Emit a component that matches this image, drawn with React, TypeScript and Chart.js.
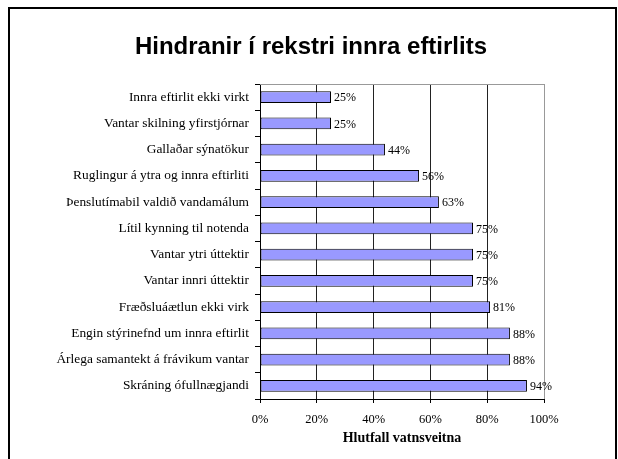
import React, { useEffect, useRef } from "react";
import { Chart, registerables } from "chart.js";

Chart.register(...registerables);

const chartTitle = "Hindranir í rekstri innra eftirlits";
const xAxisTitle = "Hlutfall vatnsveitna";

const categories = [
  "Innra eftirlit ekki virkt",
  "Vantar skilning yfirstjórnar",
  "Gallaðar sýnatökur",
  "Ruglingur á ytra og innra eftirliti",
  "Þenslutímabil valdið vandamálum",
  "Lítil kynning til notenda",
  "Vantar ytri úttektir",
  "Vantar innri úttektir",
  "Fræðsluáætlun ekki virk",
  "Engin stýrinefnd um innra eftirlit",
  "Árlega samantekt á frávikum vantar",
  "Skráning ófullnægjandi",
];

const values = [25, 25, 44, 56, 63, 75, 75, 75, 81, 88, 88, 94];

const xMin = 0;
const xMax = 100;
const xStep = 20;

const SERIF = "'Liberation Serif', 'Times New Roman', serif";
const SANS = "'Liberation Sans', Arial, sans-serif";

const decorPlugin = {
  id: "decor",
  afterDatasetsDraw(chart: any) {
    const { ctx, chartArea } = chart;
    ctx.save();
    ctx.strokeStyle = "#999999";
    ctx.lineWidth = 1;
    ctx.beginPath();
    ctx.moveTo(chartArea.left, Math.round(chartArea.top) + 0.5);
    ctx.lineTo(chartArea.right + 0.5, Math.round(chartArea.top) + 0.5);
    ctx.stroke();
    const meta = chart.getDatasetMeta(0);
    ctx.fillStyle = "#000";
    ctx.font = `12px ${SERIF}`;
    ctx.textAlign = "left";
    ctx.textBaseline = "middle";
    meta.data.forEach((bar: any, i: number) => {
      const v = chart.data.datasets[0].data[i];
      ctx.fillText(`${v}%`, bar.x + 3, bar.y + 1);
    });
    ctx.restore();
  },
  afterDraw(chart: any) {
    const { ctx, chartArea } = chart;
    ctx.save();
    ctx.fillStyle = "#000";
    ctx.textAlign = "center";
    ctx.textBaseline = "middle";
    ctx.font = `bold 24px ${SANS}`;
    ctx.fillText(chartTitle, 311, 47);
    ctx.font = `bold 14px ${SERIF}`;
    ctx.fillText(xAxisTitle, (chartArea.left + chartArea.right) / 2, 438);
    ctx.restore();
  },
};

export default function App() {
  const canvasRef = useRef<HTMLCanvasElement | null>(null);

  useEffect(() => {
    const canvas = canvasRef.current;
    if (!canvas) return;
    const chart = new Chart(canvas, {
      type: "bar",
      data: {
        labels: categories,
        datasets: [
          {
            data: values,
            backgroundColor: "#9999FF",
            borderColor: "#000000",
            borderWidth: 1,
            borderSkipped: false,
            barPercentage: 0.45,
            categoryPercentage: 1,
          },
        ],
      },
      options: {
        indexAxis: "y",
        responsive: false,
        animation: false,
        devicePixelRatio: 1,
        layout: { padding: { left: 0, top: 84, right: 74, bottom: 0 } },
        plugins: {
          legend: { display: false },
          title: { display: false },
          tooltip: { enabled: false },
        },
        scales: {
          x: {
            type: "linear",
            min: xMin,
            max: xMax,
            ticks: {
              stepSize: xStep,
              callback: (v: any) => `${v}%`,
              font: { family: SERIF, size: 12.5 },
              color: "#000",
              padding: 9,
            },
            grid: {
              color: (c: any) =>
                c.tick && c.tick.value === xMin
                  ? "rgba(0,0,0,0)"
                  : c.tick && c.tick.value === xMax
                  ? "#999999"
                  : "#222222",
              tickColor: "#000",
              tickLength: 4,
            },
            border: { color: "#000", width: 1 },
            afterFit: (s: any) => {
              s.height = 60;
            },
          },
          y: {
            type: "category",
            grid: {
              drawOnChartArea: false,
              drawTicks: true,
              tickLength: 5,
              color: "#000",
              offset: true,
            },
            border: { color: "#000", width: 1 },
            ticks: {
              font: { family: SERIF, size: 13.4 },
              color: "#000",
              padding: 6,
              autoSkip: false,
            },
            afterFit: (s: any) => {
              s.width = 260;
            },
          },
        },
      },
      plugins: [decorPlugin],
    } as any);
    return () => chart.destroy();
  }, []);

  return (
    <div
      style={{
        position: "fixed",
        left: 0,
        top: 0,
        width: 618,
        height: 459,
        overflow: "hidden",
        background: "#fff",
      }}
    >
      <canvas
        ref={canvasRef}
        width={618}
        height={459}
        style={{ position: "absolute", left: 0, top: 0, width: 618, height: 459 }}
      />
      <div
        style={{
          position: "absolute",
          left: 8,
          top: 7,
          width: 609,
          height: 470,
          border: "2px solid #000",
          boxSizing: "border-box",
          pointerEvents: "none",
        }}
      />
    </div>
  );
}
